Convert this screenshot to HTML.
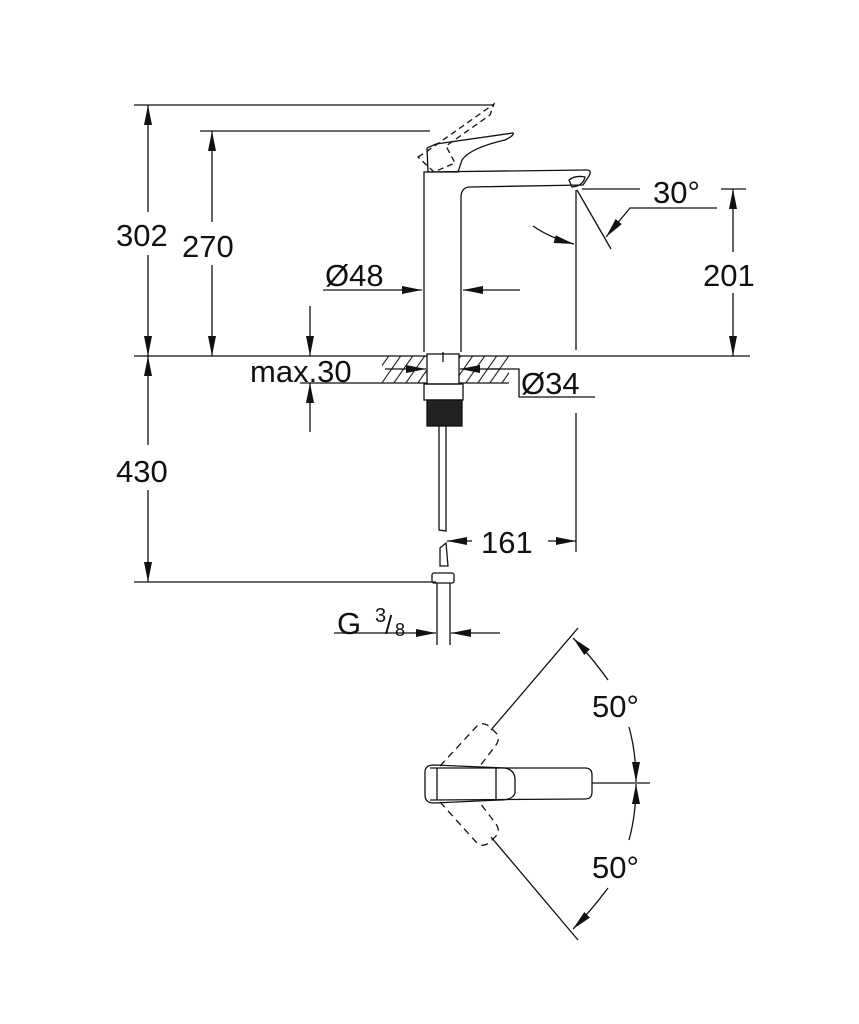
<!DOCTYPE html>
<html><head><meta charset="utf-8"><style>
html,body{margin:0;padding:0;background:#fff;}
svg{display:block}
text{font-family:"Liberation Sans",sans-serif;fill:#111;}
</style></head><body>
<svg width="859" height="1024" viewBox="0 0 859 1024" xmlns="http://www.w3.org/2000/svg">
<defs>
<marker id="a" markerWidth="20" markerHeight="8" refX="20" refY="4" orient="auto" markerUnits="userSpaceOnUse">
<path d="M0,0 L20,4 L0,8 Z" fill="#111"/></marker>
<pattern id="h" width="12" height="27" patternUnits="userSpaceOnUse" patternTransform="skewX(-35)">
<line x1="2" y1="0" x2="2" y2="27" stroke="#111" stroke-width="1.3"/></pattern>
</defs>
<g stroke="#111" stroke-width="1.3" fill="none">
<line x1="134" y1="105" x2="492" y2="105"/>
<line x1="200" y1="131" x2="430" y2="131"/>
<line x1="134" y1="356" x2="750" y2="356"/>
<line x1="134" y1="582" x2="436" y2="582"/>
<!-- 302 -->
<line x1="148" y1="212" x2="148" y2="105" marker-end="url(#a)"/>
<line x1="148" y1="255" x2="148" y2="356" marker-end="url(#a)"/>
<!-- 270 -->
<line x1="212" y1="222" x2="212" y2="131" marker-end="url(#a)"/>
<line x1="212" y1="265" x2="212" y2="356" marker-end="url(#a)"/>
<!-- 430 -->
<line x1="148" y1="445" x2="148" y2="356" marker-end="url(#a)"/>
<line x1="148" y1="490" x2="148" y2="582" marker-end="url(#a)"/>
<!-- max.30 -->
<line x1="310" y1="306" x2="310" y2="356" marker-end="url(#a)"/>
<line x1="310" y1="432" x2="310" y2="383" marker-end="url(#a)"/>
<line x1="300" y1="383" x2="378" y2="383"/>
<!-- faucet body -->
<path d="M424,352 L424,172 L587,170 Q592,170 589,176 L583,185 L470,187 Q462,187 461,196 L461,352"/>
<path d="M569,180 Q575,175 585,177 Q583,186 572,187 Z"/>
<path d="M428,172 L427,148 L436,144 L513,133 Q515,135 505,140 Q470,148 462,160 L458,172 Z"/>
<g stroke-dasharray="6,4">
<path d="M418,157 L426,152 L494,104 L490,115 L446,146 L455,163 L434,172 Z"/>
</g>
<rect x="382" y="356" width="127" height="27" fill="url(#h)" stroke="none"/>
<line x1="378" y1="383" x2="509" y2="383"/>
<rect x="427" y="354" width="32" height="30" fill="#fff"/>
<line x1="443" y1="352" x2="443" y2="362"/>
<line x1="385" y1="369" x2="426" y2="369" marker-end="url(#a)"/>
<line x1="500" y1="369" x2="460" y2="369" marker-end="url(#a)"/>
<path d="M490,369 L519,369 L519,397 L595,397"/>
<rect x="424" y="384" width="39" height="16"/>
<rect x="427" y="400" width="35" height="26" fill="#222"/>
<path d="M439,426 L439,530 L446,531 L446,426"/>
<path d="M440,548 L446,543 L448,566 L440,566 Z"/>
<rect x="432" y="573" width="22" height="10" rx="2"/>
<line x1="437" y1="583" x2="437" y2="645"/>
<line x1="450" y1="583" x2="450" y2="645"/>
<!-- 161 -->
<line x1="576" y1="413" x2="576" y2="552"/>
<line x1="472" y1="541" x2="447" y2="541" marker-end="url(#a)"/>
<line x1="548" y1="541" x2="576" y2="541" marker-end="url(#a)"/>
<!-- G3/8 -->
<line x1="334" y1="633" x2="436" y2="633" marker-end="url(#a)"/>
<line x1="500" y1="633" x2="451" y2="633" marker-end="url(#a)"/>
<!-- Ø48 -->
<line x1="323" y1="290" x2="422" y2="290" marker-end="url(#a)"/>
<line x1="520" y1="290" x2="463" y2="290" marker-end="url(#a)"/>
<!-- 30° / 201 -->
<line x1="576" y1="190" x2="576" y2="350"/>
<line x1="582" y1="189" x2="640" y2="189"/>
<line x1="721" y1="189" x2="746" y2="189"/>
<line x1="577" y1="190" x2="611" y2="249"/>
<path d="M717,208 L630,208 L606,237" marker-end="url(#a)"/>
<path d="M533,226 Q550,238 574,244" marker-end="url(#a)"/>
<line x1="733" y1="252" x2="733" y2="189" marker-end="url(#a)"/>
<line x1="733" y1="293" x2="733" y2="356" marker-end="url(#a)"/>
<!-- top view -->
<path d="M430,768 L585,768 Q592,768 592,775 L592,792 Q592,799 585,799 L430,800"/>
<path d="M434,765 L505,768 Q515,770 515,780 L515,793 Q513,800 500,800 L434,803 Q425,803 425,795 L425,772 Q425,765 434,765 Z"/>
<path d="M437,768 L437,800"/>
<line x1="496" y1="768" x2="496" y2="799"/>
<line x1="592" y1="783" x2="650" y2="783"/>
<g stroke-dasharray="7,5">
<path d="M440,766 L477,726 Q483,721 490,727 L497,734 Q500,739 496,745 L480,766"/>
<path d="M440,802 L477,843 Q483,848 490,842 L497,835 Q500,830 496,824 L480,803"/>
</g>
<line x1="491" y1="730" x2="578" y2="628"/>
<line x1="491" y1="837" x2="578" y2="940"/>
<path d="M608,680 Q590,655 573,638" marker-end="url(#a)"/>
<path d="M629,727 Q636,752 636,782" marker-end="url(#a)"/>
<path d="M629,840 Q636,815 636,784" marker-end="url(#a)"/>
<path d="M608,888 Q590,912 573,929" marker-end="url(#a)"/>
</g>
<g font-size="31">
<text x="116" y="246">302</text>
<text x="182" y="257">270</text>
<text x="325" y="286">Ø48</text>
<text x="250" y="382">max.30</text>
<text x="521" y="394">Ø34</text>
<text x="116" y="482">430</text>
<text x="481" y="553">161</text>
<text x="337" y="634">G</text>
<text x="653" y="203">30°</text>
<text x="703" y="286">201</text>
<text x="592" y="717">50°</text>
<text x="592" y="878">50°</text>
</g>
<text x="375" y="622" font-size="20">3</text>
<text x="385" y="634" font-size="26">/</text>
<text x="395" y="636" font-size="18">8</text>
</svg>
</body></html>
